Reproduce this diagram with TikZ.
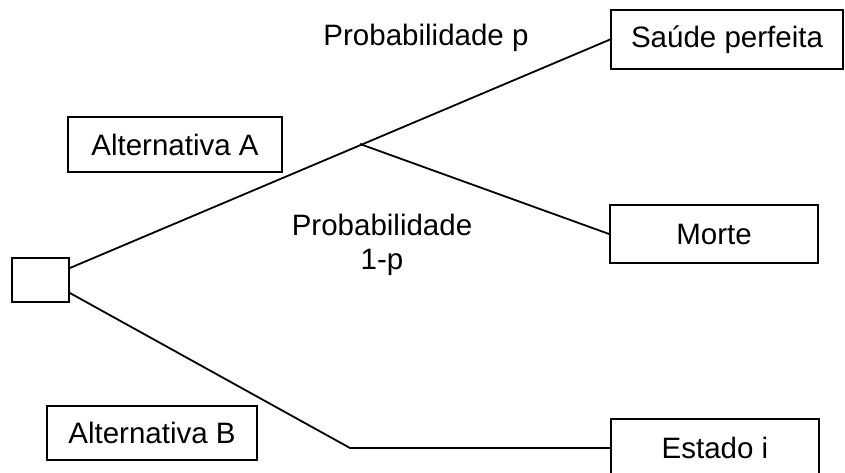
\documentclass[tikz,border=0pt]{standalone}
\usepackage{fontspec}
\setmainfont{Liberation Sans}
\begin{document}
\begin{tikzpicture}[x=1pt, y=-1pt, line width=1.8pt, every node/.style={font=\fontsize{29.5}{34}\selectfont}, box/.style = {draw, rectangle, inner sep=0pt, minimum width=208pt, minimum height=58pt}, lbl/.style = {align=center}]
			\useasboundingbox (0,0) rectangle (845,472);
			
			\node[box, minimum width=57pt, minimum height=44pt] (dec) at (40.5,280) {};
			
			\node[box, minimum width=214pt, minimum height=55pt] (altA) at (175,144.5) {Alternativa A};
			\node[box, minimum width=210pt, minimum height=54pt] (altB) at (152,433) {Alternativa B};
			
			\node[box, minimum width=232pt, minimum height=59pt] (saude) at (727,39.5) {Saúde perfeita};
			\node[box] (morte) at (714,234) {Morte};
			\node[box] (estado) at (715,448) {Estado i};
			
			\node[lbl] (probP) at (426,38) {Probabilidade p};
			\node[lbl] (probQ) at (382,245) {Probabilidade\\1-p};
			
			\coordinate (a1) at ([yshift=12pt]dec.east);
			\coordinate (b1) at ([yshift=-13pt]dec.east);
			\coordinate (split) at (360,144);
			\coordinate (bend) at (350,448);
			
			\draw (a1) -- (saude.west);
			\draw (split) -- (morte.west);
			\draw (b1) -- (bend) -- (estado.west);
			
		\end{tikzpicture}
\end{document}
